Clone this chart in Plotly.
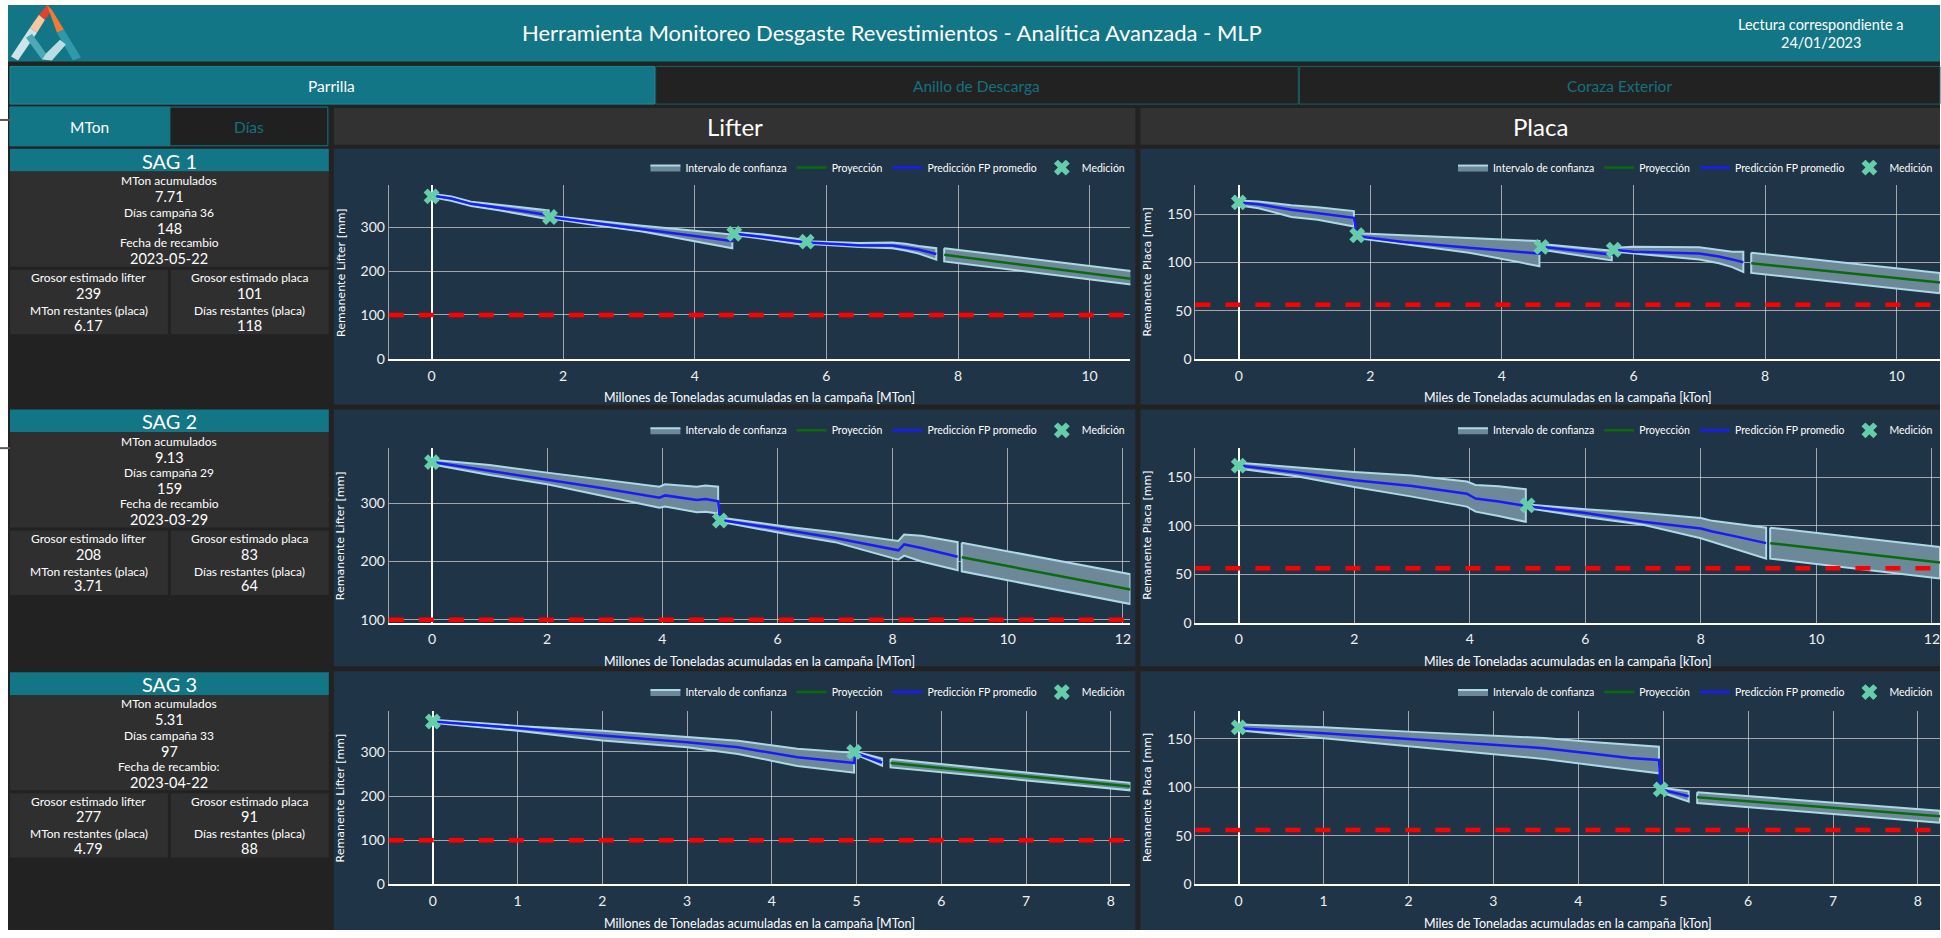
import plotly.graph_objects as go

W, H = 1941, 938

# ---------------- Resumen por molino ----------------
SAG_NOMBRES = ["SAG 1", "SAG 2", "SAG 3"]
MTON_ACUMULADOS = ["7.71", "9.13", "5.31"]
DIAS_CAMPANA_TXT = ["Días campaña 36", "Días campaña 29", "Días campaña 33"]
DIAS_CAMPANA = ["148", "159", "97"]
FECHA_TXT = ["Fecha de recambio", "Fecha de recambio", "Fecha de recambio:"]
FECHA_RECAMBIO = ["2023-05-22", "2023-03-29", "2023-04-22"]
GROSOR_LIFTER = ["239", "208", "277"]
GROSOR_PLACA = ["101", "83", "91"]
MTON_RESTANTES = ["6.17", "3.71", "4.79"]
DIAS_RESTANTES = ["118", "64", "88"]

LIMITE_LIFTER = 100
LIMITE_PLACA = 56

# ---------------- SAG 1 ----------------
S1_LIF_X = [0, 0.3, 0.6, 1.0, 1.4, 1.78, None, 1.8, 2.5, 3.2, 4.0, 4.57, None, 4.6, 5.0, 5.68, None,
            5.7, 6.2, 6.5, 7.0, 7.2, 7.4, 7.67]
S1_LIF_MEDIA = [372, 365, 353, 345, 336, 327, None, 323, 309, 296, 280, 268, None, 285, 278, 265, None,
                265, 261, 258, 258, 254, 249, 239]
S1_LIF_SUP = [376, 370, 358, 351, 344, 338, None, 326, 314, 303, 292, 283, None, 289, 284, 271, None,
              268, 265, 264, 265, 262, 257, 252]
S1_LIF_INF = [368, 360, 348, 339, 329, 318, None, 320, 304, 290, 268, 252, None, 282, 274, 259, None,
              262, 258, 255, 252, 247, 240, 226]
S1_LIF_PROY_X = [7.79, 10.65]
S1_LIF_PROY = [237, 182]
S1_LIF_PROY_SUP = [252, 200]
S1_LIF_PROY_INF = [222, 169]
S1_LIF_MED_X = [0, 1.8, 4.6, 5.7]
S1_LIF_MED_Y = [370, 323, 285, 267]

S1_PLA_X = [0, 0.3, 0.8, 1.2, 1.75, None, 1.8, 2.5, 3.5, 4.57, None, 4.6, 5.67, None,
            5.7, 6.0, 7.0, 7.3, 7.5, 7.67]
S1_PLA_MEDIA = [162, 160, 154.5, 151, 146, None, 127, 121, 115, 109, None, 116, 108, None,
                113, 111, 109, 106, 103, 100]
S1_PLA_SUP = [164, 163, 159, 157, 153, None, 130, 128, 125, 122, None, 119, 112, None,
              115, 116, 115.5, 113, 111, 111]
S1_PLA_INF = [159, 156, 147, 144, 137, None, 125, 119, 110, 96, None, 113, 102, None,
              111, 109, 103, 99, 95, 90]
S1_PLA_PROY_X = [7.79, 10.66]
S1_PLA_PROY = [99, 79]
S1_PLA_PROY_SUP = [110, 89]
S1_PLA_PROY_INF = [89, 68]
S1_PLA_MED_X = [0, 1.8, 4.6, 5.7]
S1_PLA_MED_Y = [162, 128, 116, 113]

# ---------------- SAG 2 ----------------
S2_LIF_X = [0, 1, 2, 3, 3.95, 4.05, 4.6, 4.75, 4.97, None, 5.0, 6.2, 7.0, 8.1, 8.2, 8.5, 9.13]
S2_LIF_MEDIA = [370, 355, 341, 325, 309, 313, 305, 307, 303, None, 271, 253, 240, 219, 229, 223, 208]
S2_LIF_SUP = [374, 365, 352, 340, 328, 332, 328, 330, 328, None, 275, 259, 250, 235, 246, 244, 233]
S2_LIF_INF = [366, 348, 332, 312, 292, 294, 284, 285, 282, None, 268, 246, 233, 203, 210, 200, 185]
S2_LIF_PROY_X = [9.2, 12.13]
S2_LIF_PROY = [207, 152]
S2_LIF_PROY_SUP = [232, 178]
S2_LIF_PROY_INF = [183, 127]
S2_LIF_MED_X = [0, 5.0]
S2_LIF_MED_Y = [370, 270]

S2_PLA_X = [0, 1, 2, 3, 3.95, 4.1, 4.5, 4.97, None, 5.0, 6.0, 7.0, 8.0, 8.2, 8.6, 9.13]
S2_PLA_MEDIA = [162, 155, 147, 141, 133, 128, 125, 121, None, 120, 113, 104, 97, 94, 89, 82]
S2_PLA_SUP = [165, 160, 155.5, 151.7, 145.5, 142, 140.7, 137.6, None, 122, 117, 113, 108, 105, 102, 98]
S2_PLA_INF = [159, 151, 140, 130, 119.7, 114.5, 110, 104, None, 118, 109, 101, 87, 83, 76, 66]
S2_PLA_PROY_X = [9.2, 12.14]
S2_PLA_PROY = [82, 62]
S2_PLA_PROY_SUP = [98, 78]
S2_PLA_PROY_INF = [66, 45.5]
S2_PLA_MED_X = [0, 5.0]
S2_PLA_MED_Y = [162, 121]

# ---------------- SAG 3 ----------------
S3_LIF_X = [0, 1, 2, 3, 3.6, 4.3, 4.97, None, 4.98, 5.3]
S3_LIF_MEDIA = [369, 354, 337, 322, 310.5, 288, 275, None, 298, 276]
S3_LIF_SUP = [373, 359, 348, 335, 325.5, 307, 298, None, 301, 285]
S3_LIF_INF = [366, 348, 326, 310.5, 295.5, 268, 253, None, 295, 269]
S3_LIF_PROY_X = [5.4, 8.23]
S3_LIF_PROY = [275, 222]
S3_LIF_PROY_SUP = [284, 230]
S3_LIF_PROY_INF = [265, 213]
S3_LIF_MED_X = [0, 4.97]
S3_LIF_MED_Y = [369, 300]

S3_PLA_X = [0, 1, 2, 3, 3.6, 4.2, 4.6, 4.95, None, 4.97, 5.3]
S3_PLA_MEDIA = [161, 156, 150, 144, 140.5, 134.6, 130.5, 128.4, None, 98, 91]
S3_PLA_SUP = [165, 162, 157.6, 153.5, 151, 146.6, 144, 142, None, 100, 96]
S3_PLA_INF = [159, 150.7, 142.5, 134.6, 129.4, 122.6, 118, 114.6, None, 95, 85.5]
S3_PLA_PROY_X = [5.4, 8.26]
S3_PLA_PROY = [90, 70.4]
S3_PLA_PROY_SUP = [95, 76]
S3_PLA_PROY_INF = [84, 63.5]
S3_PLA_MED_X = [0, 4.97]
S3_PLA_MED_Y = [162, 98]

# ---------------- Style ----------------
TEAL = "#137687"
TEAL_DIM = "#14717f"
PAGE = "#222222"
BOX = "#2f2f2f"
BAR = "#323232"
NAVY = "#1f3447"
GRID = "rgba(215,215,215,0.7)"
BAND_FILL = "#6d8898"
BAND_EDGE = "#add8e6"
MED_COLOR = "#66cdaa"
FONT = "Lato"

fig = go.Figure()
shapes, annotations = [], []


def fx(v):
    return v / W


def fy(v):
    return 1 - v / H


def rect(x0, y0, x1, y1, fill, border=None, bw=0):
    shapes.append(dict(type="rect", xref="paper", yref="paper",
                       x0=fx(x0), x1=fx(x1), y0=fy(y1), y1=fy(y0),
                       fillcolor=fill, line=dict(color=border or fill, width=bw),
                       layer="below"))


def poly(pts, fill):
    d = "M " + " L ".join(f"{fx(x):.5f},{fy(y):.5f}" for x, y in pts) + " Z"
    shapes.append(dict(type="path", xref="paper", yref="paper", path=d,
                       fillcolor=fill, line=dict(width=0), layer="below"))


def hline(x0, x1, y, color, width):
    shapes.append(dict(type="line", xref="paper", yref="paper",
                       x0=fx(x0), x1=fx(x1), y0=fy(y), y1=fy(y),
                       line=dict(color=color, width=width), layer="above"))


def label(x, y, s, size, color="#ffffff", family=FONT, **kw):
    annotations.append(dict(x=fx(x), y=fy(y), xref="paper", yref="paper", text=s,
                            showarrow=False, font=dict(size=size, color=color, family=family),
                            xanchor="center", yanchor="middle", **kw))


# ---------------- Page frame ----------------
rect(8, 5, W, H, PAGE)
rect(8, 5, W, 62, TEAL)
label(892, 33, "Herramienta Monitoreo Desgaste Revestimientos - Analítica Avanzada - MLP", 22)
label(1822, 25, "Lectura correspondiente a", 14.5)
label(1822, 43, "24/01/2023", 14.5)

# logo
poly([(11, 57), (18, 61), (37, 33), (30, 28)], "#cfe4e8")
poly([(30, 28), (37, 33), (45, 20), (39, 15)], "#f6c8a0")
poly([(39, 15), (45, 20), (52, 10), (47, 5)], "#e0432b")
poly([(47, 5), (52, 10), (64, 30), (57, 33)], "#ee7d33")
poly([(57, 33), (64, 30), (81, 58), (73, 61)], "#2f98aa")
poly([(26, 38), (32, 34), (46, 54), (42, 60)], "#4ea9b7")
poly([(42, 60), (46, 54), (60, 40), (66, 45), (52, 61)], "#b8dde2")

# tabs
rect(10, 67, 655, 105, TEAL, "#1a8a9c", 1)
rect(656, 67, 1299, 105, "#222222", "#1b5f6a", 1)
rect(1300, 67, W, 105, "#222222", "#1b5f6a", 1)
label(332, 87, "Parrilla", 15.5)
label(977, 87, "Anillo de Descarga", 15.5, TEAL_DIM)
label(1620, 87, "Coraza Exterior", 15.5, TEAL_DIM)

# unit selector
rect(10, 108, 328, 147, "#202020", TEAL, 1)
rect(10, 108, 170, 147, TEAL, TEAL, 1)
label(90, 128, "MTon", 15.5)
label(249, 128, "Días", 15.5, TEAL_DIM)

# component headers
rect(334, 109, 1136, 146, BAR)
rect(1141, 109, W, 146, BAR)
label(735, 128, "Lifter", 24)
label(1541, 128, "Placa", 24)

hline(0, 13, 121, "#5a5a5a", 2)
hline(0, 10, 452, "#5a5a5a", 2)

# ---------------- SAG summary panels ----------------
PANEL_TOPS = [150, 413, 678]
for i, top in enumerate(PANEL_TOPS):
    rect(10, top, 329, top + 23, TEAL)
    label(169.5, top + 12, SAG_NOMBRES[i], 20)
    rect(10, top + 23, 329, top + 119, BOX)
    rows = [("MTon acumulados", 12), (MTON_ACUMULADOS[i], 14.5), (DIAS_CAMPANA_TXT[i], 12),
            (DIAS_CAMPANA[i], 14.5), (FECHA_TXT[i], 12), (FECHA_RECAMBIO[i], 14.5)]
    for (txt, sz), dy in zip(rows, [32, 48, 64, 80, 95, 111]):
        label(169.5, top + dy, txt, sz)
    rect(10, top + 122, 168, top + 187, BOX)
    rect(171, top + 122, 329, top + 187, BOX)
    left = [("Grosor estimado lifter", 12), (GROSOR_LIFTER[i], 14.5),
            ("MTon restantes (placa)", 12), (MTON_RESTANTES[i], 14.5)]
    right = [("Grosor estimado placa", 12), (GROSOR_PLACA[i], 14.5),
             ("Días restantes (placa)", 12), (DIAS_RESTANTES[i], 14.5)]
    for (a, sa), (b, sb), dy in zip(left, right, [130, 146, 163, 178]):
        label(89, top + dy, a, sa)
        label(250, top + dy, b, sb)

# ---------------- Charts ----------------
ROW_PANEL = [(150, 408), (413, 672), (677, 938)]
ROW_PLOT = [(187, 362), (452, 628), (717, 892)]
COL_PANEL = {"L": (334, 1136), "P": (1141, W)}
COL_PLOT = {"L": (389, 1131), "P": (1196, W)}
LEGEND_RIGHT = {"L": 1131, "P": 1939}
LEGEND_Y = [169, 434, 698]

CHARTS = [
    (0, "L", S1_LIF_X, S1_LIF_MEDIA, S1_LIF_SUP, S1_LIF_INF, S1_LIF_PROY_X, S1_LIF_PROY,
     S1_LIF_PROY_SUP, S1_LIF_PROY_INF, S1_LIF_MED_X, S1_LIF_MED_Y, [-0.65, 10.62], [0, 395], 2),
    (0, "P", S1_PLA_X, S1_PLA_MEDIA, S1_PLA_SUP, S1_PLA_INF, S1_PLA_PROY_X, S1_PLA_PROY,
     S1_PLA_PROY_SUP, S1_PLA_PROY_INF, S1_PLA_MED_X, S1_PLA_MED_Y, [-0.66, 10.66], [0, 179.6], 2),
    (1, "L", S2_LIF_X, S2_LIF_MEDIA, S2_LIF_SUP, S2_LIF_INF, S2_LIF_PROY_X, S2_LIF_PROY,
     S2_LIF_PROY_SUP, S2_LIF_PROY_INF, S2_LIF_MED_X, S2_LIF_MED_Y, [-0.75, 12.13], [95.2, 393.9], 2),
    (1, "P", S2_PLA_X, S2_PLA_MEDIA, S2_PLA_SUP, S2_PLA_INF, S2_PLA_PROY_X, S2_PLA_PROY,
     S2_PLA_PROY_SUP, S2_PLA_PROY_INF, S2_PLA_MED_X, S2_PLA_MED_Y, [-0.75, 12.14], [0, 180], 2),
    (2, "L", S3_LIF_X, S3_LIF_MEDIA, S3_LIF_SUP, S3_LIF_INF, S3_LIF_PROY_X, S3_LIF_PROY,
     S3_LIF_PROY_SUP, S3_LIF_PROY_INF, S3_LIF_MED_X, S3_LIF_MED_Y, [-0.52, 8.23], [0, 393], 1),
    (2, "P", S3_PLA_X, S3_PLA_MEDIA, S3_PLA_SUP, S3_PLA_INF, S3_PLA_PROY_X, S3_PLA_PROY,
     S3_PLA_PROY_SUP, S3_PLA_PROY_INF, S3_PLA_MED_X, S3_PLA_MED_Y, [-0.51, 8.26], [0, 179], 1),
]


def band_outline(xs, sup, inf):
    """Closed outline per segment (segments split by None)."""
    segs, cur = [], []
    for i, v in enumerate(xs):
        if v is None:
            segs.append(cur)
            cur = []
        else:
            cur.append(i)
    segs.append(cur)
    bx, by = [], []
    for seg in segs:
        xx = [xs[i] for i in seg]
        bx += xx + xx[::-1] + [xx[0], None]
        by += [sup[i] for i in seg] + [inf[i] for i in seg][::-1] + [sup[seg[0]], None]
    return bx, by


layout_axes = {}
for k, (row, col, X, MED, SUP, INF, PX, PM, PS, PI, MX, MY, xr, yr, xdt) in enumerate(CHARTS, start=1):
    xa = "x" if k == 1 else f"x{k}"
    ya = "y" if k == 1 else f"y{k}"
    lg = "legend" if k == 1 else f"legend{k}"

    px0, px1 = COL_PANEL[col]
    py0, py1 = ROW_PANEL[row]
    rect(px0, py0, px1, py1, NAVY)
    x0, x1 = COL_PLOT[col]
    y0, y1 = ROW_PLOT[row]

    bx, by = band_outline(X + [None] + PX, SUP + [None] + PS, INF + [None] + PI)
    fig.add_trace(go.Scatter(x=bx, y=by, fill="toself", fillcolor=BAND_FILL, mode="lines",
                             line=dict(color=BAND_EDGE, width=2), name="Intervalo de confianza",
                             xaxis=xa, yaxis=ya, legend=lg, hoverinfo="skip"))
    fig.add_trace(go.Scatter(x=PX, y=PM, mode="lines", line=dict(color="#0b6b0b", width=2.5),
                             name="Proyección", xaxis=xa, yaxis=ya, legend=lg))
    fig.add_trace(go.Scatter(x=[v for v in X if v is not None], y=[v for v in MED if v is not None],
                             mode="lines", line=dict(color="#1a1aff", width=2.5),
                             name="Predicción FP promedio", xaxis=xa, yaxis=ya, legend=lg))
    fig.add_trace(go.Scatter(x=MX, y=MY, mode="markers",
                             marker=dict(symbol="x", size=14, color=MED_COLOR, line=dict(width=0)),
                             name="Medición", xaxis=xa, yaxis=ya, legend=lg))

    limite = LIMITE_LIFTER if col == "L" else LIMITE_PLACA
    shapes.append(dict(type="line", xref=f"{xa} domain", yref=ya, x0=0, x1=1, y0=limite, y1=limite,
                       line=dict(color="#ff0000", width=4.5, dash="15px,15px"), layer="above"))

    layout_axes["xaxis" if k == 1 else f"xaxis{k}"] = dict(
        domain=[fx(x0), fx(x1)], anchor=ya, range=xr, dtick=xdt, tick0=0,
        showgrid=True, gridcolor=GRID, gridwidth=1,
        zeroline=True, zerolinecolor="#ffffff", zerolinewidth=2,
        showline=True, linecolor="#ffffff", linewidth=2, ticks="",
        ticklabelstandoff=3,
        tickfont=dict(family=FONT, size=14, color="#f0f0f0"))
    layout_axes["yaxis" if k == 1 else f"yaxis{k}"] = dict(
        domain=[fy(y1), fy(y0)], anchor=xa, range=yr, dtick=100 if col == "L" else 50, tick0=0,
        showgrid=True, gridcolor=GRID, gridwidth=1,
        zeroline=True, zerolinecolor="#ffffff", zerolinewidth=2.5,
        showline=True, linecolor=GRID, linewidth=1, ticks="",
        tickfont=dict(family=FONT, size=14, color="#f0f0f0"))
    layout_axes[lg] = dict(orientation="h", x=fx(LEGEND_RIGHT[col]), xanchor="right",
                           y=fy(LEGEND_Y[row]), yanchor="middle", bgcolor="rgba(0,0,0,0)",
                           font=dict(family=FONT, size=10.5, color="#ffffff"),
                           itemwidth=30, tracegroupgap=0)

    label(px0 + 7, (y0 + y1) / 2, "Remanente Lifter [mm]" if col == "L" else "Remanente Placa [mm]",
          11, family="DejaVu Sans", textangle=-90)
    label((x0 + x1) / 2, y1 + 39,
          "Millones de Toneladas acumuladas en la campaña [MTon]" if col == "L"
          else "Miles de Toneladas acumuladas en la campaña [kTon]", 12.5)

fig.update_layout(
    width=W, height=H, margin=dict(l=0, r=0, t=0, b=0),
    paper_bgcolor="#ffffff", plot_bgcolor="rgba(0,0,0,0)",
    shapes=shapes, annotations=annotations, **layout_axes,
)

fig.write_html("out.html")
